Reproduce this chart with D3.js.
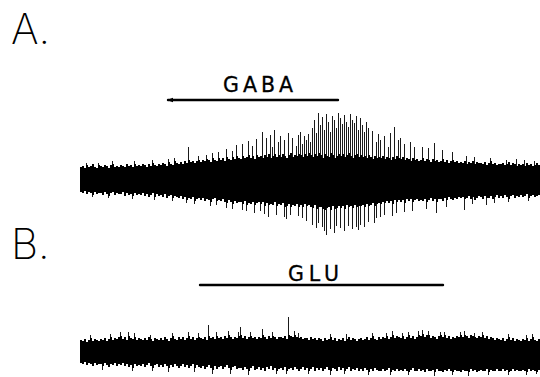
<!DOCTYPE html>
<html>
<head>
<meta charset="utf-8">
<script src="https://cdn.jsdelivr.net/npm/d3@7"></script>
<style>
  html, body { margin: 0; padding: 0; background: #fff; }
  svg { display: block; }
</style>
</head>
<body>
<svg id="fig" width="540" height="377"></svg>
<script>
// Extracellular multi-unit recordings, one bin per second.
// Dense band: upper / lower edge of the unresolved activity in each bin.
// Spikes: single large deflections, [bin, peak].

// ---- Trace A (GABA) ----
const aBandHi = [
  13,14,12,15,13,14,16,13,12,15, 14,13,15,14,12,15,16,13,14,13,
  15,14,13,16,14,15,13,16,14,15, 14,16,15,13,16,14,17,15,14,16,
  15,17,16,14,18,16,15,19,17,16, 18,16,19,17,20,18,19,17,19,20,
  18,20,19,21,20,18,22,20,19,22, 20,22,19,23,21,20,23,21,24,22,
  21,24,22,23,25,22,24,21,25,23, 24,22,25,23,26,22,24,26,23,25,
  23,26,24,22,25,27,23,25,24,26, 25,23,26,24,27,25,23,26,24,27,
  25,22,26,24,23,27,25,22,24,26, 24,26,23,25,27,24,22,25,26,23,
  25,23,24,22,25,23,21,24,22,23, 22,24,21,23,22,20,23,21,24,22,
  21,23,20,22,21,19,22,20,21,19, 20,22,19,21,20,18,21,19,20,18,
  19,21,18,20,17,19,20,18,19,17, 18,17,19,16,18,17,19,16,18,17,
  17,16,18,15,17,19,16,17,15,16, 16,17,15,16,18,15,17,16,14,16,
  15,16,14,17,15,16,14,15,17,15
];
const aBandLo = [
  -12,-13,-11,-14,-12,-13,-15,-12,-14,-13, -13,-15,-12,-14,-16,-13,-12,-15,-13,-14,
  -14,-12,-16,-13,-15,-14,-16,-13,-15,-14, -15,-13,-16,-14,-17,-15,-13,-17,-14,-16,
  -15,-17,-14,-18,-16,-15,-18,-16,-17,-18, -16,-19,-17,-20,-18,-19,-17,-21,-19,-18,
  -20,-18,-21,-19,-20,-22,-19,-18,-21,-20, -21,-19,-22,-23,-20,-22,-24,-21,-23,-22,
  -22,-24,-21,-25,-23,-24,-22,-25,-23,-22, -24,-22,-26,-23,-25,-24,-25,-22,-26,-24,
  -25,-23,-27,-26,-24,-27,-25,-26,-24,-27, -25,-27,-24,-26,-25,-27,-28,-25,-29,-27,
  -27,-29,-30,-28,-27,-30,-26,-29,-28,-26, -28,-26,-29,-25,-27,-26,-28,-25,-27,-26,
  -26,-25,-27,-24,-26,-25,-23,-26,-24,-23, -24,-22,-23,-21,-23,-21,-24,-20,-22,-20,
  -22,-20,-23,-19,-21,-19,-22,-20,-19,-21, -20,-21,-19,-22,-20,-18,-21,-19,-22,-19,
  -19,-21,-18,-20,-17,-19,-20,-18,-19,-17, -18,-17,-19,-18,-16,-19,-17,-20,-18,-16,
  -17,-19,-16,-18,-18,-16,-19,-17,-15,-18, -16,-18,-15,-17,-19,-16,-15,-18,-16,-17,
  -15,-17,-16,-14,-18,-16,-15,-17,-16,-15
];
const aSpikesUp = [
  [3,17],[9,17],[16,19],[27,19],[36,20],[44,21],[47,22],[54,33],[59,24],[63,25],
  [66,27],[69,28],[73,31],[76,29],[78,35],[81,36],[84,39],[86,34],[88,41],[91,48],
  [93,42],[95,45],[96,33],[97,50],[99,38],[100,44],[102,40],[104,47],[106,42],[108,34],
  [109,45],[110,48],[111,36],[112,44],[113,40],[114,46],[115,38],[116,52],[117,60],[118,47],
  [119,67],[120,55],[121,63],[122,50],[123,66],[124,58],[125,48],[126,64],[127,60],[128,52],
  [129,67],[130,62],[131,56],[132,65],[133,58],[134,53],[135,66],[136,60],[137,57],[138,64],
  [139,50],[140,62],[141,55],[142,48],[143,58],[144,52],[146,49],[148,38],[149,46],[150,40],
  [152,44],[154,33],[155,47],[157,53],[159,40],[160,42],[162,36],[165,38],[167,33],[171,33],
  [174,32],[177,37],[181,30],[186,28],[193,24],[197,23],[205,22],[213,20],[218,21],[222,20],
  [227,19]
];
const aSpikesDown = [
  [6,-17],[14,-18],[26,-19],[37,-20],[46,-21],[53,-23],[57,-24],[65,-26],[68,-25],[73,-28],
  [76,-29],[81,-30],[83,-31],[87,-33],[90,-31],[92,-34],[94,-37],[98,-35],[102,-37],[103,-39],
  [105,-35],[109,-36],[111,-38],[113,-41],[116,-45],[118,-48],[119,-43],[121,-47],[122,-51],[123,-55],
  [125,-49],[127,-53],[128,-46],[130,-48],[132,-51],[134,-46],[136,-49],[138,-47],[139,-50],[140,-45],
  [142,-47],[144,-42],[147,-43],[148,-38],[150,-37],[152,-35],[156,-36],[158,-33],[162,-32],[166,-31],
  [173,-29],[178,-33],[183,-27],[192,-30],[196,-24],[203,-25],[207,-23],[214,-22],[224,-21]
];

// ---- Trace B (glutamate) ----
const bBandHi = [
  13,12,14,11,13,15,12,14,13,12, 14,13,15,12,14,16,13,15,14,16,
  17,14,16,13,17,15,14,16,13,15, 14,13,15,13,16,14,12,15,14,13,
  15,13,16,14,12,15,17,14,13,16, 14,16,13,15,17,14,16,13,15,16,
  15,14,16,13,17,15,16,14,17,15, 16,14,17,15,18,16,14,16,15,17,
  18,15,17,14,16,17,15,16,14,16, 15,18,16,14,17,15,17,16,14,16,
  16,15,17,14,18,17,16,18,16,15, 16,14,15,15,13,16,14,15,13,15,
  14,12,15,13,14,16,13,15,12,14, 13,15,12,14,16,13,15,14,12,14,
  15,13,14,16,13,15,17,14,13,16, 14,16,15,17,14,16,18,15,17,16,
  15,17,14,16,18,15,17,14,16,18, 17,19,16,18,18,15,17,16,14,17,
  18,16,18,15,17,14,16,15,17,16, 18,16,18,17,15,18,17,16,15,17,
  16,18,15,17,14,16,15,13,15,14, 13,15,12,14,16,13,15,12,14,13,
  12,14,13,15,12,14,16,13,12,14
];
const bBandLo = [
  -10,-11,-9,-12,-10,-11,-13,-10,-12,-11, -11,-13,-10,-12,-14,-11,-12,-10,-13,-11,
  -12,-10,-13,-11,-14,-12,-15,-11,-13,-12, -13,-11,-14,-12,-10,-13,-15,-12,-11,-14,
  -12,-14,-11,-13,-15,-12,-14,-11,-13,-15, -13,-11,-14,-12,-15,-13,-11,-15,-12,-14,
  -15,-13,-16,-14,-12,-15,-17,-13,-16,-14, -13,-16,-14,-12,-15,-17,-14,-13,-16,-15,
  -15,-17,-14,-16,-18,-15,-13,-17,-16,-14, -17,-15,-18,-14,-16,-13,-17,-15,-18,-16,
  -15,-17,-14,-18,-16,-15,-17,-14,-16,-18, -16,-14,-17,-15,-18,-16,-14,-18,-15,-17,
  -15,-18,-16,-14,-17,-18,-15,-16,-18,-14, -17,-15,-18,-16,-14,-18,-16,-17,-15,-18,
  -16,-18,-15,-17,-19,-16,-18,-15,-17,-18, -18,-16,-18,-17,-15,-19,-17,-18,-16,-18,
  -17,-18,-16,-18,-19,-17,-15,-18,-18,-16, -18,-17,-19,-16,-18,-18,-17,-19,-16,-18,
  -18,-19,-17,-18,-16,-18,-19,-17,-18,-18, -19,-17,-18,-18,-19,-16,-18,-17,-19,-18,
  -17,-18,-18,-16,-19,-17,-18,-18,-16,-18, -18,-16,-18,-17,-19,-18,-16,-18,-17,-18,
  -18,-17,-18,-19,-16,-18,-17,-18,-19,-17
];
const bSpikesUp = [
  [5,18],[15,19],[20,21],[24,21],[27,20],[35,18],[46,20],[54,21],[59,20],[64,28],
  [68,21],[74,22],[79,21],[80,26],[85,21],[91,24],[96,21],[104,36],[107,22],[109,20],
  [125,19],[133,19],[146,20],[153,20],[156,22],[161,20],[164,21],[169,22],[171,23],[174,22],
  [180,21],[182,21],[190,21],[192,22],[197,20],[201,21],[214,19],[223,18],[226,19]
];
const bSpikesDown = [
  [11,-17],[26,-18],[36,-18],[44,-19],[57,-19],[66,-21],[75,-21],[84,-22],[98,-21],[103,-21],
  [114,-21],[125,-22],[132,-21],[144,-22],[155,-22],[164,-22],[177,-23],[186,-22],[194,-23],[204,-22],
  [214,-22],[223,-22],[228,-21]
];

// Drug application periods (s)
const gaba = { label: "GABA", start: 44, end: 129 };
const glu  = { label: "GLU",  start: 60, end: 181.5 };

const panelLabels = ["A.", "B."];

const svg = d3.select("#fig");

const x = d3.scaleLinear().domain([0, 230]).range([80, 540]);
const yA = d3.scaleLinear().domain([-100, 100]).range([280, 80]);
const yB = d3.scaleLinear().domain([-100, 100]).range([453, 253]);

function drawTrace(bandHi, bandLo, up, down, y) {
  const g = svg.append("g");
  const bw = x(1) - x(0);
  // dense activity band, one column per bin
  g.append("g")
    .selectAll("rect")
    .data(bandHi.map((h, i) => ({ i, h, l: bandLo[i] })))
    .join("rect")
    .attr("x", d => x(d.i))
    .attr("width", bw)
    .attr("y", d => y(d.h))
    .attr("height", d => y(d.l) - y(d.h))
    .attr("fill", "#000")
    .attr("shape-rendering", "crispEdges");
  // single large spikes as hairlines
  g.append("g")
    .selectAll("line")
    .data(up.concat(down))
    .join("line")
    .attr("x1", d => x(d[0]) + 0.5)
    .attr("x2", d => x(d[0]) + 0.5)
    .attr("y1", y(0))
    .attr("y2", d => y(d[1]))
    .attr("stroke", "#000")
    .attr("stroke-width", 0.9);
}

drawTrace(aBandHi, aBandLo, aSpikesUp, aSpikesDown, yA);
drawTrace(bBandHi, bBandLo, bSpikesUp, bSpikesDown, yB);

// Application bars with their labels
function drawBar(app, yBar, yText, textX, textW, arrowLeft) {
  svg.append("line")
    .attr("x1", x(app.start)).attr("x2", x(app.end))
    .attr("y1", yBar).attr("y2", yBar)
    .attr("stroke", "#000").attr("stroke-width", 2.4)
    .attr("stroke-linecap", "round");
  if (arrowLeft) {
    const x0 = x(app.start);
    svg.append("path")
      .attr("d", `M${x0 - 1},${yBar} L${x0 + 5},${yBar - 2.2} L${x0 + 5},${yBar + 2.2} Z`)
      .attr("fill", "#000");
  }
  svg.append("text")
    .attr("x", textX).attr("y", yText)
    .attr("textLength", textW).attr("lengthAdjust", "spacing")
    .attr("font-family", "'DejaVu Sans', sans-serif")
    .attr("font-size", 20.5)
    .attr("fill", "#000")
    .attr("stroke", "#000")
    .attr("stroke-width", 0.3)
    .text(app.label);
}
drawBar(gaba, 100, 91.5, 223, 70, true);
drawBar(glu, 285, 281, 288, 51, false);

// Panel letters
svg.selectAll("text.panel")
  .data(panelLabels)
  .join("text")
  .attr("class", "panel")
  .attr("x", 11)
  .attr("y", (d, i) => i === 0 ? 44 : 259)
  .attr("font-family", "Inter, 'Liberation Sans', sans-serif")
  .attr("font-weight", 200)
  .attr("font-size", 42)
  .attr("fill", "#000")
  .text(d => d);
</script>
</body>
</html>
